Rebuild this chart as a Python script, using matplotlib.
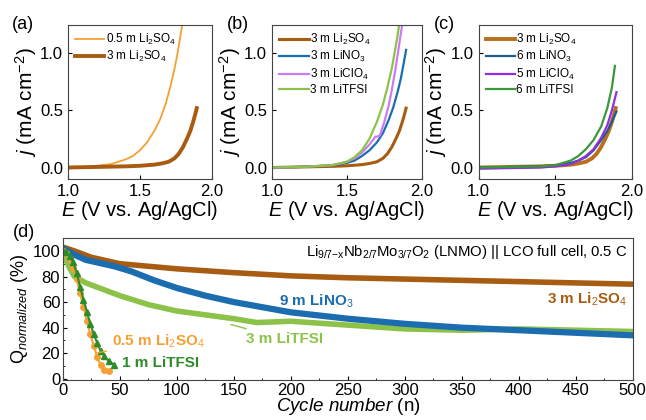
import numpy as np
import matplotlib.pyplot as plt

plt.rcParams['font.family'] = ['Liberation Sans', 'DejaVu Sans']
plt.rcParams['mathtext.fontset'] = 'custom'
plt.rcParams['mathtext.rm'] = 'Liberation Sans'
plt.rcParams['mathtext.it'] = 'Liberation Sans:italic'
plt.rcParams['mathtext.bf'] = 'Liberation Sans:bold'

# ---- LSV data (E in V vs Ag/AgCl, j in mA cm-2) ----
E_a_05 = [1.0, 1.1, 1.2, 1.3, 1.35, 1.4, 1.45, 1.5, 1.55, 1.6, 1.64, 1.68, 1.71, 1.74, 1.76, 1.78, 1.795]
j_a_05 = [0.0, 0.005, 0.015, 0.03, 0.05, 0.07, 0.1, 0.15, 0.22, 0.32, 0.42, 0.56, 0.7, 0.86, 0.99, 1.14, 1.26]

E_li2so4 = [1.0, 1.2, 1.4, 1.5, 1.6, 1.65, 1.7, 1.74, 1.77, 1.8, 1.83, 1.85, 1.87, 1.885, 1.895]
j_li2so4 = [0.0, 0.005, 0.01, 0.015, 0.025, 0.035, 0.05, 0.08, 0.12, 0.18, 0.26, 0.32, 0.4, 0.47, 0.52]

E_b_no3 = [1.0, 1.2, 1.4, 1.5, 1.55, 1.6, 1.65, 1.7, 1.74, 1.78, 1.81, 1.84, 1.86, 1.88, 1.895]
j_b_no3 = [0.0, 0.005, 0.02, 0.04, 0.06, 0.1, 0.15, 0.22, 0.3, 0.42, 0.53, 0.67, 0.78, 0.92, 1.03]

E_b_clo4 = [1.0, 1.2, 1.4, 1.5, 1.55, 1.6, 1.65, 1.69, 1.7, 1.72, 1.75, 1.78, 1.8, 1.82, 1.84, 1.855, 1.87]
j_b_clo4 = [0.0, 0.005, 0.02, 0.05, 0.08, 0.13, 0.2, 0.27, 0.27, 0.28, 0.4, 0.55, 0.68, 0.83, 1.0, 1.13, 1.26]

E_b_tfsi = [1.0, 1.2, 1.4, 1.5, 1.55, 1.6, 1.65, 1.7, 1.74, 1.77, 1.8, 1.82, 1.835, 1.85]
j_b_tfsi = [0.0, 0.005, 0.02, 0.05, 0.09, 0.15, 0.25, 0.4, 0.55, 0.7, 0.87, 1.02, 1.13, 1.26]

E_c_no3 = [1.0, 1.2, 1.4, 1.5, 1.6, 1.65, 1.7, 1.75, 1.8, 1.84, 1.87, 1.9]
j_c_no3 = [0.0, 0.005, 0.01, 0.02, 0.04, 0.06, 0.09, 0.15, 0.24, 0.32, 0.4, 0.49]

E_c_clo4 = [1.0, 1.2, 1.4, 1.5, 1.6, 1.65, 1.7, 1.75, 1.8, 1.84, 1.87, 1.9]
j_c_clo4 = [-0.01, -0.005, 0.0, 0.01, 0.03, 0.06, 0.1, 0.16, 0.26, 0.37, 0.5, 0.66]

E_c_tfsi = [1.0, 1.2, 1.4, 1.5, 1.6, 1.65, 1.7, 1.75, 1.8, 1.84, 1.87, 1.89]
j_c_tfsi = [0.0, 0.005, 0.01, 0.02, 0.06, 0.1, 0.16, 0.24, 0.36, 0.52, 0.7, 0.89]

# ---- cycling data (cycle number, Q normalized %) ----
cyc_li2so4 = [0, 10, 25, 50, 75, 100, 150, 200, 250, 300, 350, 400, 450, 500]
q_li2so4 = [103, 100, 95, 90, 88, 86, 83, 80.5, 79, 78, 77, 76, 75, 74]

cyc_no3 = [0, 10, 20, 35, 45, 60, 80, 100, 125, 150, 200, 250, 300, 350, 400, 450, 500]
q_no3 = [102, 97, 93, 90, 88, 84, 77, 71, 65, 60, 52, 47, 43, 40, 38, 36, 34]

cyc_tfsi3 = [0, 5, 10, 20, 35, 50, 75, 100, 125, 150, 170, 200, 250, 300, 350, 400, 450, 500]
q_tfsi3 = [98, 88, 80, 75, 70, 65, 58, 53, 50, 47, 44, 45, 42, 39, 38, 39, 38, 37]

cyc_li2so4_05 = [0, 3, 6, 9, 12, 15, 18, 21, 24, 27, 30, 33, 36, 40]
q_li2so4_05 = [100, 98, 94, 87, 78, 67, 56, 45, 35, 26, 17, 11, 7, 6]

cyc_tfsi1 = [0, 3, 6, 9, 12, 15, 18, 21, 24, 27, 30, 33, 36, 40, 45]
q_tfsi1 = [100, 99, 96, 91, 83, 72, 62, 52, 43, 35, 28, 22, 18, 14, 11]

c_brown = '#A85C12'
c_orange = '#F5A034'
c_blue = '#1B6DB0'
c_violet = '#CC7BF5'
c_lgreen = '#8DC24A'
c_navy = '#1F5E8A'
c_purple = '#8E2FE0'
c_green = '#3A9A37'
c_dgreen = '#2E8B2A'

fig = plt.figure(figsize=(6.46, 4.2), dpi=100)

def style_lsv(ax, label, lx):
    ax.set_xlim(1.0, 2.0)
    ax.set_ylim(-0.1, 1.25)
    ax.set_xticks([1.0, 1.5, 2.0])
    ax.set_yticks([0.0, 0.5, 1.0])
    ax.tick_params(direction='in', labelsize=12, length=3)
    ax.set_xlabel('$E$ (V vs. Ag/AgCl)', fontsize=14.5, labelpad=0)
    ax.set_ylabel('$j$ (mA cm$^{-2}$)', fontsize=15, labelpad=1)
    for s in ax.spines.values():
        s.set_color('#444444')
    ax.text(lx, 1.0, label, transform=ax.transAxes, fontsize=13, va='center')
    ax.legend(loc='upper left', frameon=False, fontsize=8.5, handlelength=2.5,
              handletextpad=0.1, labelspacing=0.2, borderaxespad=0.2)

ax_a = fig.add_axes([0.105, 0.574, 0.223, 0.367])
ax_a.plot(E_a_05, j_a_05, color=c_orange, lw=1.3, label='0.5 m Li$_2$SO$_4$')
ax_a.plot(E_li2so4, j_li2so4, color=c_brown, lw=2.8, label='3 m Li$_2$SO$_4$')
style_lsv(ax_a, '(a)', -0.39)

ax_b = fig.add_axes([0.421, 0.574, 0.232, 0.367])
ax_b.plot(E_li2so4, j_li2so4, color=c_brown, lw=2.2, label='3 m Li$_2$SO$_4$')
ax_b.plot(E_b_no3, j_b_no3, color=c_blue, lw=1.6, label='3 m LiNO$_3$')
ax_b.plot(E_b_clo4, j_b_clo4, color=c_violet, lw=1.6, label='3 m LiClO$_4$')
ax_b.plot(E_b_tfsi, j_b_tfsi, color=c_lgreen, lw=1.6, label='3 m LiTFSI')
style_lsv(ax_b, '(b)', -0.30)

ax_c = fig.add_axes([0.741, 0.574, 0.237, 0.367])
ax_c.plot(E_li2so4, j_li2so4, color='#B8701E', lw=2.8, label='3 m Li$_2$SO$_4$')
ax_c.plot(E_c_no3, j_c_no3, color=c_navy, lw=1.6, label='6 m LiNO$_3$')
ax_c.plot(E_c_clo4, j_c_clo4, color=c_purple, lw=1.6, label='5 m LiClO$_4$')
ax_c.plot(E_c_tfsi, j_c_tfsi, color=c_green, lw=1.6, label='6 m LiTFSI')
style_lsv(ax_c, '(c)', -0.29)

ax_d = fig.add_axes([0.0975, 0.095, 0.882, 0.338])
ax_d.plot(cyc_li2so4, q_li2so4, color=c_brown, lw=4)
ax_d.plot(cyc_tfsi3, q_tfsi3, color=c_lgreen, lw=4)
ax_d.plot(cyc_no3, q_no3, color=c_blue, lw=4.5)
ax_d.plot(cyc_li2so4_05, q_li2so4_05, color=c_orange, lw=1.5, marker='o', ms=4)
ax_d.plot(cyc_tfsi1, q_tfsi1, color=c_dgreen, lw=1.5, marker='^', ms=4.5)
ax_d.set_xlim(0, 500)
ax_d.set_ylim(-1, 110)
ax_d.set_xticks(np.arange(0, 501, 50))
ax_d.set_xticks(np.arange(25, 500, 50), minor=True)
ax_d.set_yticks(np.arange(0, 101, 20))
ax_d.set_yticks(np.arange(10, 110, 20), minor=True)
ax_d.tick_params(which='both', direction='in', labelsize=12, pad=2)
ax_d.tick_params(which='major', length=3)
ax_d.tick_params(which='minor', length=1.5)
for s in ax_d.spines.values():
    s.set_color('#444444')
ax_d.set_xlabel('$\\mathit{Cycle\\ number}$ (n)', fontsize=13.5, labelpad=-1)
ax_d.set_ylabel('Q$_{\\mathit{normalized}}$ (%)', fontsize=13, labelpad=2)
ax_d.text(-0.088, 1.04, '(d)', transform=ax_d.transAxes, fontsize=13, va='center')
ax_d.text(0.99, 0.90, 'Li$_{9/7\\mathrm{-x}}$Nb$_{2/7}$Mo$_{3/7}$O$_2$ (LNMO) || LCO full cell, 0.5 C',
          transform=ax_d.transAxes, ha='right', va='center', fontsize=10.7)

ax_d.annotate('9 m LiNO$_3$', xy=(175, 55), xytext=(190, 61), color=c_blue,
              fontsize=11, fontweight='bold', va='center',
              arrowprops=dict(arrowstyle='-', color=c_blue, lw=1))
ax_d.annotate('3 m LiTFSI', xy=(145, 43), xytext=(161, 31), color=c_lgreen,
              fontsize=11, fontweight='bold', va='center',
              arrowprops=dict(arrowstyle='-', color=c_lgreen, lw=1))
ax_d.annotate('0.5 m Li$_2$SO$_4$', xy=(28, 20), xytext=(43, 29), color=c_orange,
              fontsize=11, fontweight='bold', va='center',
              arrowprops=dict(arrowstyle='-', color=c_orange, lw=1))
ax_d.text(52, 12, '1 m LiTFSI', color=c_dgreen, fontsize=11, fontweight='bold', va='center')
ax_d.text(425, 62, '3 m Li$_2$SO$_4$', color=c_brown, fontsize=11, fontweight='bold', va='center')

fig.savefig('out.png', dpi=100)
